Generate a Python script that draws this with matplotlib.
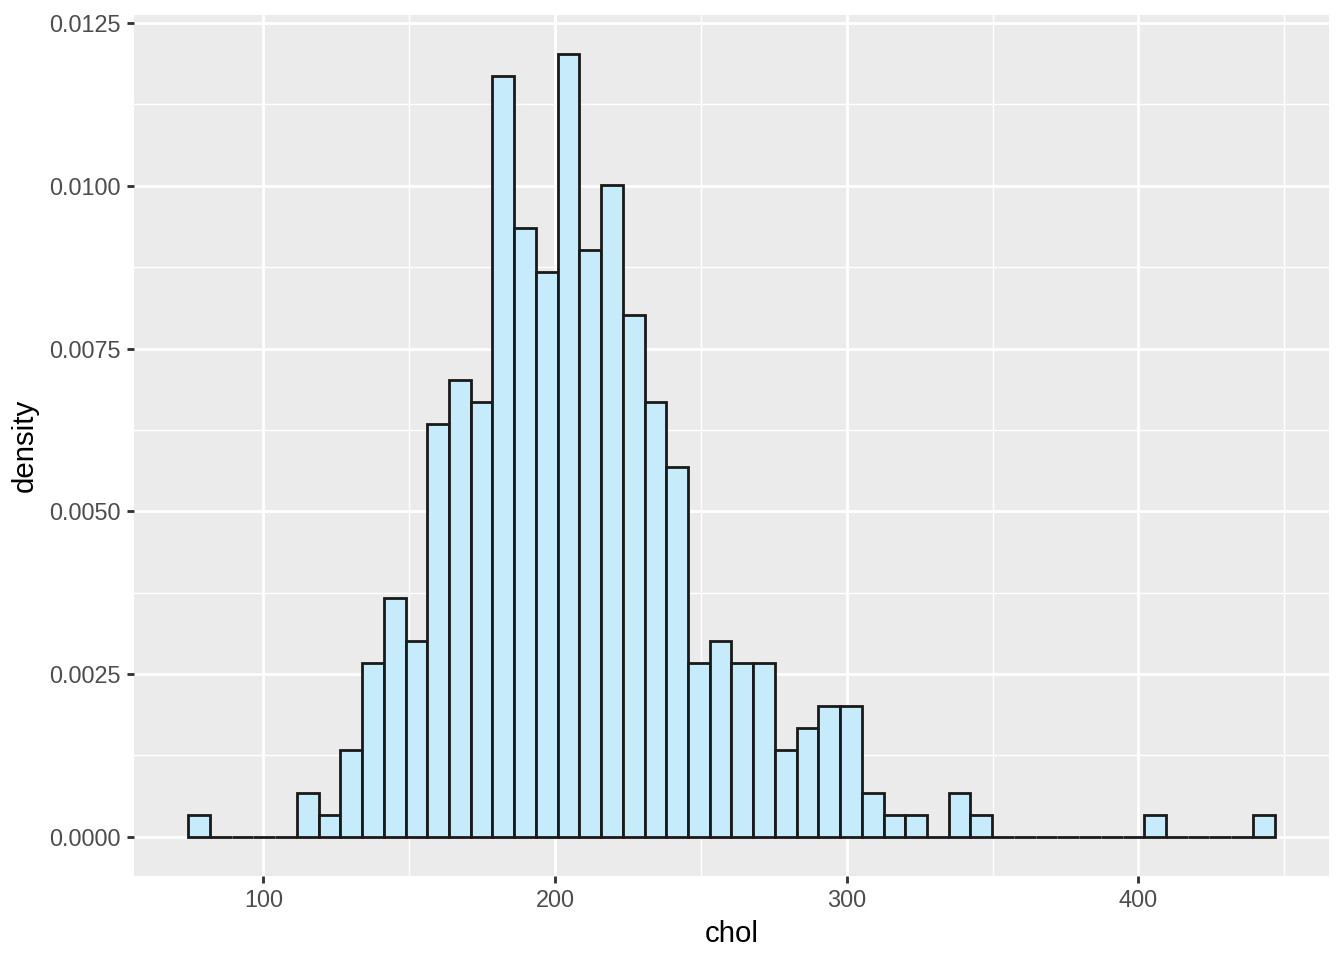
import numpy as np
import matplotlib.pyplot as plt
from matplotlib.ticker import MultipleLocator

plt.rcParams['font.family'] = ['Liberation Sans', 'DejaVu Sans']

# counts per bin (50 bins, chol from 78 to 443, n = 402)
counts = [1, 0, 0, 0, 0, 2, 1, 4, 8, 11,
          9, 19, 21, 20, 35, 28, 26, 36, 27, 30,
          24, 20, 17, 8, 9, 8, 8, 4, 5, 6,
          6, 2, 1, 1, 0, 2, 1, 0, 0, 0,
          0, 0, 0, 0, 1, 0, 0, 0, 0, 1]
chol_min = 78
chol_max = 443
n_bins = 50
y_ticks = [0.0, 0.0025, 0.005, 0.0075, 0.01, 0.0125]
x_ticks = [100, 200, 300, 400]

counts = np.array(counts)
width = (chol_max - chol_min) / (n_bins - 1)
edges = chol_min - width / 2 + width * np.arange(n_bins + 1)
density = counts / (counts.sum() * width)

fig = plt.figure(figsize=(7, 5), dpi=192)
ax = fig.add_axes([134 / 1344, 1 - 876 / 960, (1329 - 134) / 1344, (876 - 15) / 960])
ax.set_facecolor('#EBEBEB')

ax.bar(edges[:-1], density, width=width, align='edge', color='#C6EBFB',
       edgecolor='#1A1A1A', linewidth=1.05, zorder=3)

xr = edges[-1] - edges[0]
ax.set_xlim(edges[0] - 0.05 * xr, edges[-1] + 0.05 * xr)
ymax = density.max()
ax.set_ylim(-0.05 * ymax, 1.05 * ymax)

ax.set_xticks(x_ticks)
ax.set_yticks(y_ticks)
ax.set_yticklabels(['%.4f' % v for v in y_ticks])
ax.xaxis.set_minor_locator(MultipleLocator(50))
ax.yaxis.set_minor_locator(MultipleLocator(0.00125))

ax.grid(which='major', color='white', linewidth=1.07, zorder=0)
ax.grid(which='minor', color='white', linewidth=0.53, zorder=0)
ax.set_axisbelow(True)
for s in ax.spines.values():
    s.set_visible(False)

ax.tick_params(which='major', length=2.75, width=1.07, color='#333333',
               labelsize=8.8, labelcolor='#4D4D4D', pad=2.2)
ax.tick_params(which='minor', length=0)

ax.set_xlabel('chol', fontsize=11, color='black', labelpad=3)
ax.set_ylabel('density', fontsize=11, color='black', labelpad=4)

fig.savefig('out.png', dpi=192)
